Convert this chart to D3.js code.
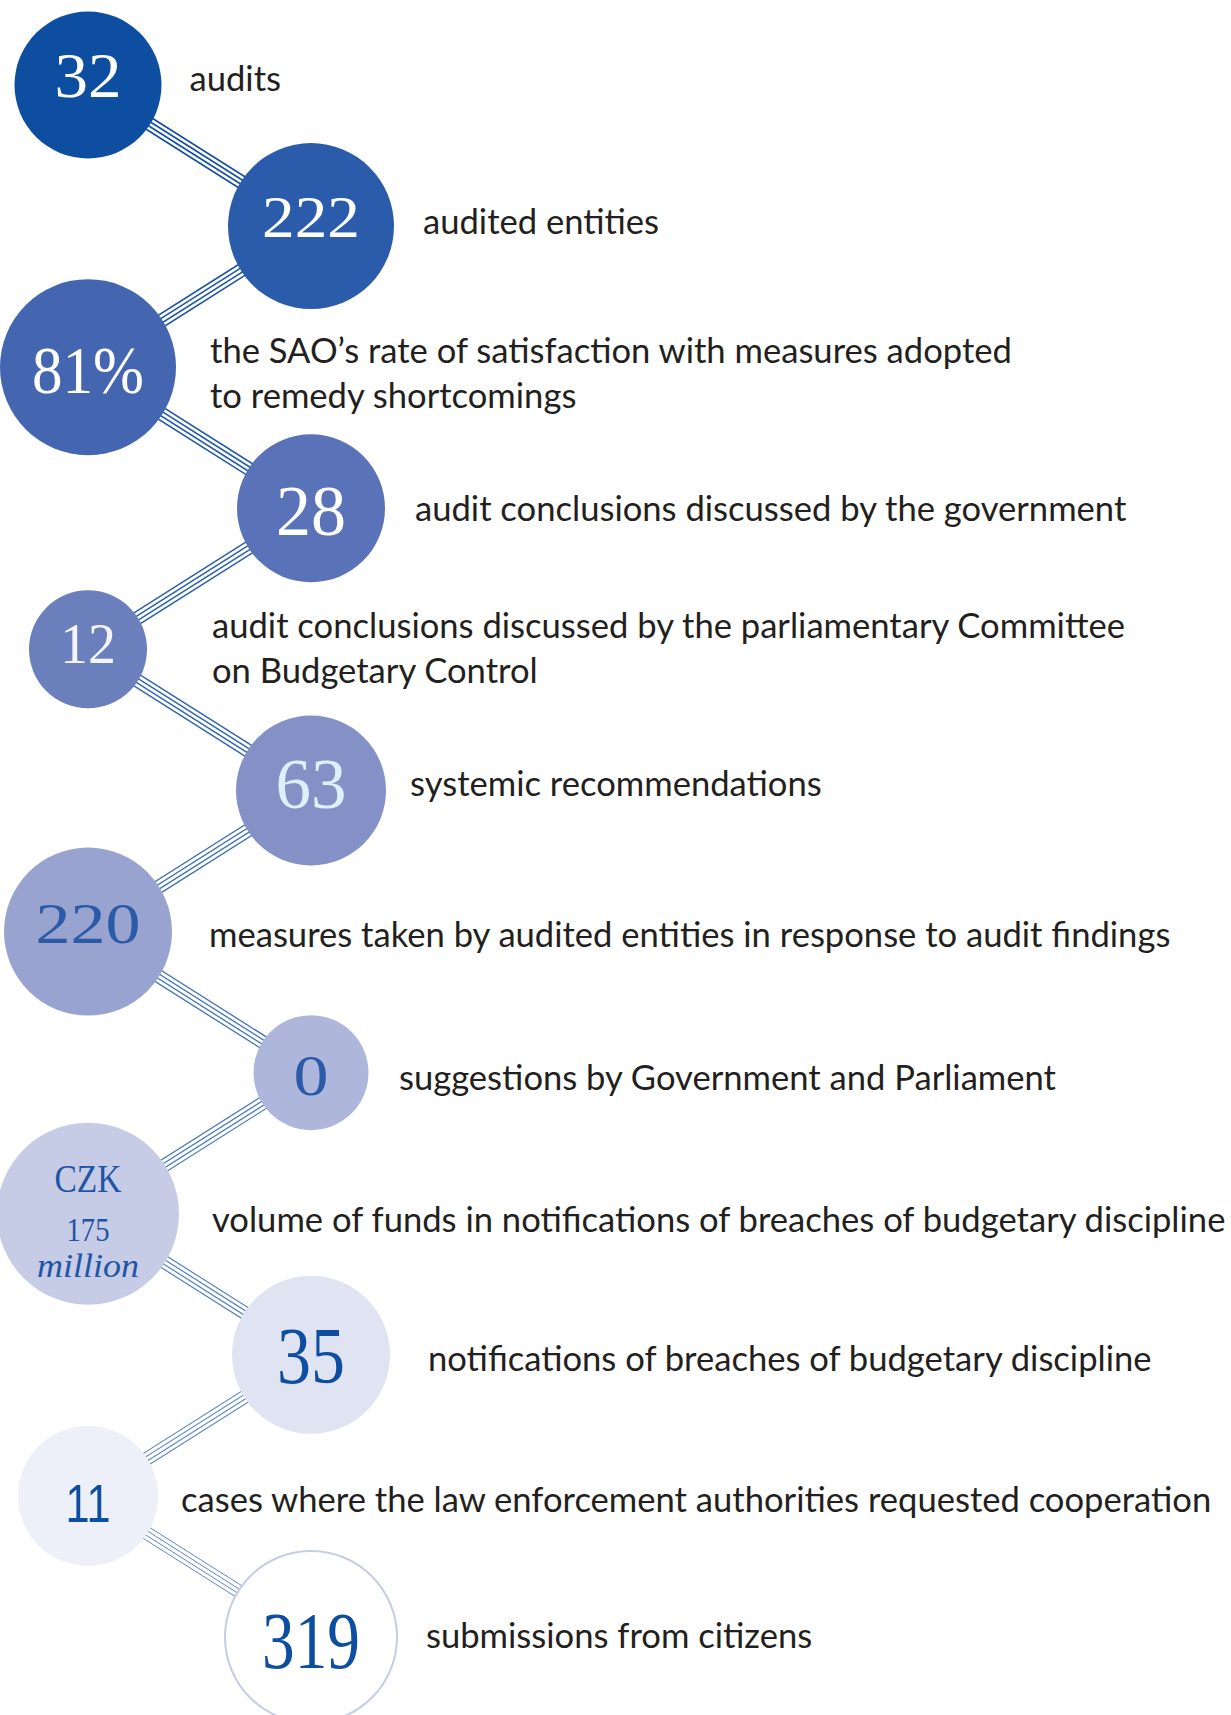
<!DOCTYPE html>
<html>
<head>
<meta charset="utf-8">
<script src="https://cdn.jsdelivr.net/npm/d3@7/dist/d3.min.js"></script>
<style>
  body { margin: 0; background: #fff; }
  .caption { font-family: Lato, "Open Sans", sans-serif; font-size: 34.6px; fill: #231f20; }
</style>
</head>
<body>
<svg width="1231" height="1715"></svg>
<script>
// figures shown in the bubbles, top to bottom
var figures = [
  ["32"], ["222"], ["81%"], ["28"], ["12"], ["63"],
  ["220"], ["0"], ["CZK", "175", "million"], ["35"], ["11"], ["319"]
];

// what each figure counts
var captions = [
  ["audits"],
  ["audited entities"],
  ["the SAO’s rate of satisfaction with measures adopted", "to remedy shortcomings"],
  ["audit conclusions discussed by the government"],
  ["audit conclusions discussed by the parliamentary Committee", "on Budgetary Control"],
  ["systemic recommendations"],
  ["measures taken by audited entities in response to audit findings"],
  ["suggestions by Government and Parliament"],
  ["volume of funds in notifications of breaches of budgetary discipline"],
  ["notifications of breaches of budgetary discipline"],
  ["cases where the law enforcement authorities requested cooperation"],
  ["submissions from citizens"]
];

// look of every bubble (radius, colours, type) - layout only
var looks = [
  { r: 73.5, fill: "#0d4ea0", ink: "#ffffff", size: [64], fy: [12], fit: [67], gap: 28, ly: 6 },
  { r: 83, fill: "#2b5cab", ink: "#ffffff", size: [60], fy: [11], fit: [98], gap: 29, ly: 8 },
  { r: 88, fill: "#4466b1", ink: "#ffffff", size: [68], fy: [26], fit: [112], gap: 34, ly: -4 },
  { r: 74, fill: "#5a73b8", ink: "#ffffff", size: [72], fy: [27], fit: [70], gap: 30, ly: 13 },
  { r: 59, fill: "#6c7fbd", ink: "#f4f4fb", size: [56], fy: [14], fit: [56], gap: 65, ly: -11 },
  { r: 75, fill: "#8391c6", ink: "#dcf0fb", size: [72], fy: [17.5], fit: [71], gap: 24, ly: 5.5 },
  { r: 84, fill: "#99a3cf", ink: "#2a5aa8", size: [58], fy: [11.5], fit: [105], gap: 37, ly: 15.5 },
  { r: 57.5, fill: "#aeb6db", ink: "#2a5aa8", size: [56], fy: [22], fit: [35], gap: 30.5, ly: 17.5 },
  { r: 91, fill: "#c6cbe6", ink: "#1f55a5", size: [41, 34, 34], fy: [-22, 27, 63], fit: [67, 43, 102], gap: 33, ly: 18.5, italic: [false, false, true] },
  { r: 79, fill: "#dfe3f2", ink: "#0d4ea0", size: [80], fy: [28], fit: [68], gap: 38, ly: 16 },
  { r: 70, fill: "#edf0f8", ink: "#0d4ea0", size: [54], fy: [26], fit: [45], gap: 23, ly: 16, sans: true },
  { r: 86, fill: "#ffffff", ink: "#0d4ea0", size: [80], fy: [31], fit: [98], gap: 29, ly: 11, ring: "#c6cbe6" }
];

var svg = d3.select("svg");
var idx = d3.range(figures.length);

var y = d3.scalePoint()
  .domain(idx)
  .range([85, 1637]);

var x = d3.scalePoint()
  .domain(["left", "right"])
  .range([88, 311]);

var side = i => i % 2 ? "right" : "left";

var nodes = idx.map(i => ({ i: i, cx: x(side(i)), cy: y(i), look: looks[i] }));

// connectors: four thin parallel lines from centre to centre
var lineColor = d3.scaleLinear().domain([0, idx.length - 2]).range(["#134ea2", "#5d88cc"]);
var lineWidth = d3.scaleLinear().domain([0, idx.length - 2]).range([1.7, 1.0]);
var offsets = [-6.3, -2.1, 2.1, 6.3];

var links = d3.pairs(nodes);
var linkG = svg.append("g").attr("class", "links");

links.forEach(function (pair, k) {
  var a = pair[0], b = pair[1];
  var dx = b.cx - a.cx, dy = b.cy - a.cy;
  var len = Math.sqrt(dx * dx + dy * dy);
  var nx = -dy / len, ny = dx / len;
  linkG.selectAll(null)
    .data(offsets)
    .enter()
    .append("line")
      .attr("x1", o => a.cx + nx * o)
      .attr("y1", o => a.cy + ny * o)
      .attr("x2", o => b.cx + nx * o)
      .attr("y2", o => b.cy + ny * o)
      .style("stroke", lineColor(k))
      .style("stroke-width", lineWidth(k));
});

var bubble = svg.append("g")
  .selectAll("g.bubble")
  .data(nodes)
  .enter()
  .append("g")
    .attr("class", "bubble")
    .attr("transform", d => "translate(" + d.cx + "," + d.cy + ")");

bubble.append("circle")
  .attr("r", d => d.look.r)
  .style("fill", d => d.look.fill)
  .style("stroke", d => d.look.ring || "none")
  .style("stroke-width", d => d.look.ring ? 2 : 0);

bubble.each(function (d) {
  var g = d3.select(this);
  figures[d.i].forEach(function (t, j) {
    g.append("text")
      .attr("x", 0)
      .attr("y", d.look.fy[j])
      .attr("text-anchor", "middle")
      .attr("textLength", d.look.fit[j])
      .attr("lengthAdjust", "spacingAndGlyphs")
      .style("font-family", d.look.sans ? "'Liberation Sans', sans-serif" : "'Liberation Serif', serif")
      .style("font-style", d.look.italic && d.look.italic[j] ? "italic" : "normal")
      .style("font-size", d.look.size[j] + "px")
      .style("fill", d.look.ink)
      .text(t);
  });
});

// captions to the right of each bubble
svg.append("g")
  .selectAll("text.caption")
  .data(nodes)
  .enter()
  .append("text")
    .attr("class", "caption")
    .attr("transform", d => "translate(" + (d.cx + d.look.r + d.look.gap) + "," + (d.cy + d.look.ly) + ")")
  .selectAll("tspan")
  .data(d => captions[d.i])
  .enter()
  .append("tspan")
    .attr("x", 0)
    .attr("y", (t, j) => j * 45)
    .text(t => t);
</script>
</body>
</html>
